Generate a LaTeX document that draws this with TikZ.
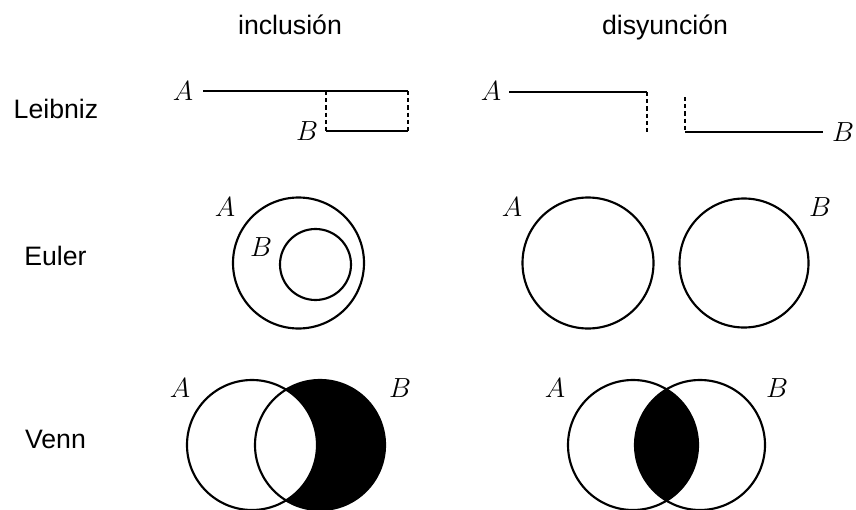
\documentclass[tikz,border=0pt]{standalone}
\usepackage{fontspec}
\setmainfont{Liberation Sans}
\begin{document}
\begin{tikzpicture}[x=0.75pt,y=-0.75pt,
  hdr/.style={font=\fontsize{20}{24}\selectfont, anchor=base, inner sep=0pt},
  setlbl/.style={font=\fontsize{22}{24}\selectfont, inner sep=0pt},
  ln/.style={line width=1.6pt},
  dsh/.style={line width=1.5pt, dash pattern=on 3.2pt off 2.2pt},
  setc/.style={circle, draw, line width=1.6pt, inner sep=0pt, minimum size=#1},
]
\useasboundingbox (0,0) rectangle (856,510);
% headers
\node[hdr] (hinc) at (290,35) {inclusión};
\node[hdr] (hdis) at (665,35) {disyunción};
\node[hdr] (rleib) at (56,118) {Leibniz};
\node[hdr] (reul) at (55.5,265) {Euler};
\node[hdr] (rvenn) at (55.5,448) {Venn};

% Leibniz inclusion
\node[setlbl] (lA1) at (183,91) {$A$};
\node[setlbl] (lB1) at (307,131) {$B$};
\coordinate (a1s) at (203,91);
\coordinate (a1m) at (326,91);
\coordinate (a1e) at (408,91);
\coordinate (b1s) at (326,131);
\coordinate (b1e) at (408,131);
\draw[ln] (a1s) -- (a1e);
\draw[ln] (b1s) -- (b1e);
\draw[dsh] (a1m) -- (b1s);
\draw[dsh] (a1e) -- (b1e);

% Leibniz disjunction
\node[setlbl] (lA2) at (491,91) {$A$};
\node[setlbl] (lB2) at (843,132) {$B$};
\coordinate (a2s) at (509,92);
\coordinate (a2e) at (647,92);
\coordinate (a2d) at (647,132);
\coordinate (b2t) at (685,97);
\coordinate (b2s) at (685,132);
\coordinate (b2e) at (823,132);
\draw[ln] (a2s) -- (a2e);
\draw[dsh] (a2e) -- (a2d);
\draw[dsh] (b2t) -- (b2s);
\draw[ln] (b2s) -- (b2e);

% Euler inclusion
\node[setc=131*0.75pt] (eA1) at (298.5,263) {};
\node[setc=71*0.75pt] (eB1) at (315.5,264.5) {};
\node[setlbl] (eLA1) at (225,207) {$A$};
\node[setlbl] (eLB1) at (261,247) {$B$};

% Euler disjunction
\node[setc=131*0.75pt] (eA2) at (588,263) {};
\node[setc=129*0.75pt] (eB2) at (744,263) {};
\node[setlbl] (eLA2) at (512,207) {$A$};
\node[setlbl] (eLB2) at (820,207) {$B$};

% Venn inclusion: B minus A shaded
\fill[black] (320,445) circle[radius=65];
\fill[white] (252,445) circle[radius=65];
\node[setc=130*0.75pt] (vA1) at (252,445) {};
\node[setc=130*0.75pt] (vB1) at (320,445) {};
\node[setlbl] (vLA1) at (180,388) {$A$};
\node[setlbl] (vLB1) at (400,388) {$B$};

% Venn disjunction: intersection shaded
\begin{scope}
  \clip (633,445) circle[radius=65];
  \fill[black] (700,445) circle[radius=65];
\end{scope}
\node[setc=130*0.75pt] (vA2) at (633,445) {};
\node[setc=130*0.75pt] (vB2) at (700,445) {};
\node[setlbl] (vLA2) at (555,388) {$A$};
\node[setlbl] (vLB2) at (777,388) {$B$};
\end{tikzpicture}
\end{document}
